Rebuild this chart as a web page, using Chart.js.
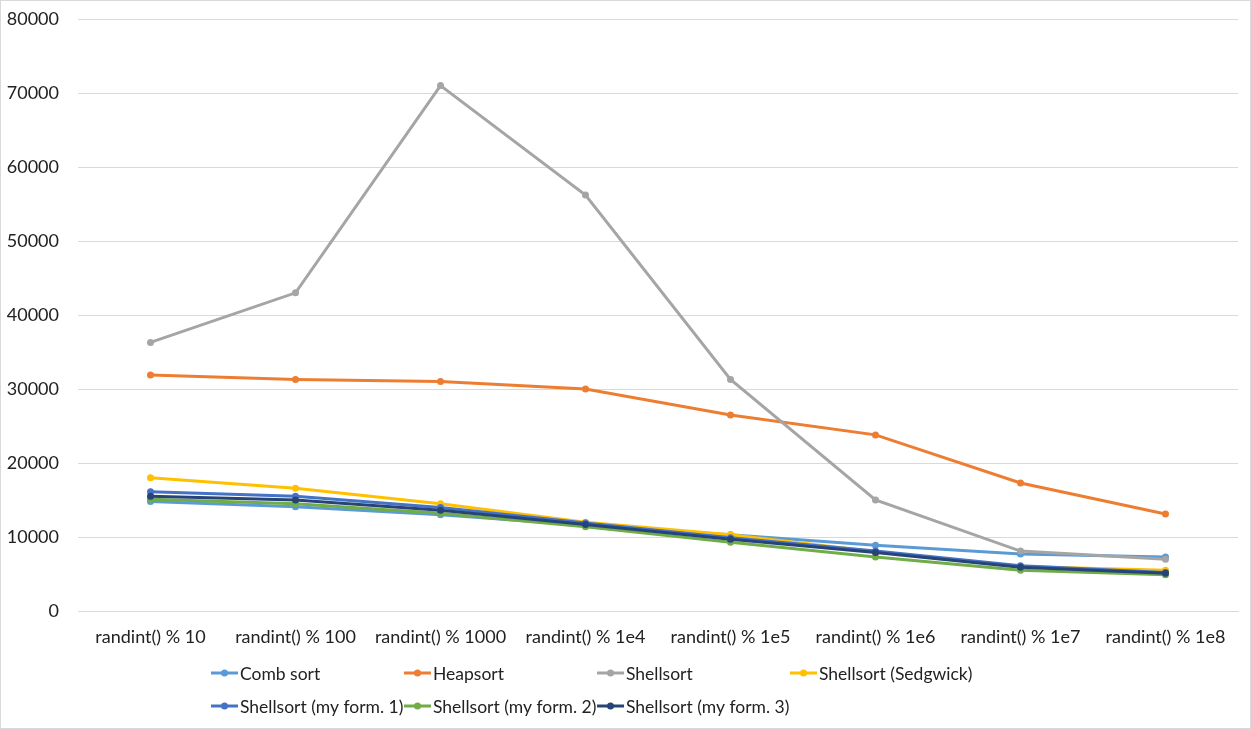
<!DOCTYPE html>
<html>
<head>
<meta charset="utf-8">
<script src="https://cdn.jsdelivr.net/npm/chart.js@4.4.1/dist/chart.umd.min.js"></script>
<style>
  html, body { margin: 0; padding: 0; background: #fff; }
  canvas { display: block; }
</style>
</head>
<body>
<canvas id="sortChart" width="1251" height="729"></canvas>
<script>
// sort timings by key range, Excel-style line chart

var categories = ['randint() % 10', 'randint() % 100', 'randint() % 1000', 'randint() % 1e4',
  'randint() % 1e5', 'randint() % 1e6', 'randint() % 1e7', 'randint() % 1e8'];

var seriesNames = ['Comb sort', 'Heapsort', 'Shellsort', 'Shellsort (Sedgwick)',
  'Shellsort (my form. 1)', 'Shellsort (my form. 2)', 'Shellsort (my form. 3)'];

var combSort  = [14800, 14100, 13000, 11600, 10300, 8900, 7700, 7300];
var heapsort  = [31900, 31300, 31000, 30000, 26500, 23800, 17300, 13100];
var shellsort = [36300, 43000, 71000, 56200, 31300, 15000, 8100, 7000];
var sedgwick  = [18000, 16600, 14500, 12000, 10300, 8000, 6000, 5500];
var myForm1   = [16100, 15500, 14000, 11900, 9900, 8100, 6100, 5200];
var myForm2   = [15100, 14500, 13200, 11400, 9300, 7300, 5500, 4900];
var myForm3   = [15500, 15000, 13600, 11700, 9700, 7900, 5900, 5100];

var yTicks = [0, 10000, 20000, 30000, 40000, 50000, 60000, 70000, 80000];

var seriesColors = ['#5B9BD5', '#ED7D31', '#A5A5A5', '#FFC000', '#4472C4', '#70AD47', '#264478'];

var FONT = 'Lato, "DejaVu Sans", sans-serif';
var TEXT = '#222222';
var GRID = '#d9d9d9';

var allSeries = [combSort, heapsort, shellsort, sedgwick, myForm1, myForm2, myForm3];

var datasets = allSeries.map(function (values, i) {
  return {
    label: seriesNames[i],
    data: values,
    borderColor: seriesColors[i],
    backgroundColor: seriesColors[i],
    pointBackgroundColor: seriesColors[i],
    pointBorderColor: seriesColors[i],
    borderWidth: 3,
    pointRadius: 3.5,
    pointBorderWidth: 0,
    tension: 0,
    fill: false,
    // Excel draws later series on top
    order: allSeries.length - 1 - i
  };
});

// legend laid out as a fixed grid like Excel's, plus the outer frame
var gridLegend = {
  id: 'gridLegend',
  afterDraw: function (chart) {
    var ctx = chart.ctx;
    var left = 211, colW = 193, top = 673, rowH = 33;
    ctx.save();
    ctx.font = '17.5px ' + FONT;
    ctx.textBaseline = 'middle';
    ctx.textAlign = 'left';
    chart.data.datasets.forEach(function (ds, i) {
      var x = left + (i % 4) * colW;
      var y = top + Math.floor(i / 4) * rowH;
      ctx.strokeStyle = ds.borderColor;
      ctx.lineWidth = 3;
      ctx.beginPath();
      ctx.moveTo(x, y);
      ctx.lineTo(x + 27, y);
      ctx.stroke();
      ctx.fillStyle = ds.borderColor;
      ctx.beginPath();
      ctx.arc(x + 13.5, y, 3.5, 0, Math.PI * 2);
      ctx.fill();
      ctx.fillStyle = TEXT;
      ctx.fillText(ds.label, x + 29, y + 1);
    });
    ctx.strokeStyle = GRID;
    ctx.lineWidth = 1;
    ctx.strokeRect(0.5, 0.5, chart.width - 1, chart.height - 1);
    ctx.restore();
  }
};

new Chart(document.getElementById('sortChart'), {
  type: 'line',
  data: { labels: categories, datasets: datasets },
  plugins: [gridLegend],
  options: {
    responsive: false,
    animation: false,
    layout: { padding: { top: 19, right: 13, left: 0, bottom: 0 } },
    plugins: {
      legend: { display: false },
      tooltip: { enabled: false }
    },
    scales: {
      x: {
        offset: true,
        grid: { display: false, drawTicks: false },
        border: { display: true, color: GRID, width: 1 },
        ticks: {
          color: TEXT,
          font: { family: FONT, size: 18 },
          padding: 15,
          maxRotation: 0,
          autoSkip: false
        },
        afterFit: function (scale) { scale.height = 118; }
      },
      y: {
        min: yTicks[0],
        max: yTicks[yTicks.length - 1],
        afterBuildTicks: function (scale) {
          scale.ticks = yTicks.map(function (v) { return { value: v }; });
        },
        grid: { color: GRID, lineWidth: 1, drawTicks: false },
        border: { display: false },
        ticks: {
          color: TEXT,
          font: { family: FONT, size: 18 },
          padding: 19,
          callback: function (v) { return String(v); }
        },
        afterFit: function (scale) {
          scale.width = 78;
          // keep the label padding from pushing the plot area down
          scale.paddingTop = 10;
          scale.paddingBottom = 10;
        }
      }
    }
  }
});
</script>
</body>
</html>
